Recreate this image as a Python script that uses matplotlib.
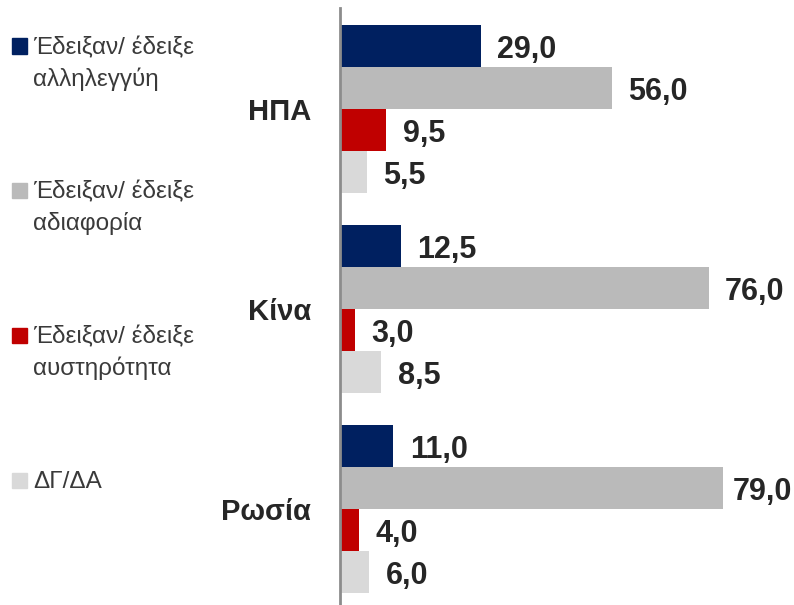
import matplotlib.pyplot as plt
from matplotlib.patches import Rectangle
import numpy as np

plt.rcParams['font.family'] = ['Liberation Sans Narrow', 'Liberation Sans', 'DejaVu Sans']

chores = ['ΗΠΑ', 'Κίνα', 'Ρωσία']
seires = ['Έδειξαν/ έδειξε\nαλληλεγγύη', 'Έδειξαν/ έδειξε\nαδιαφορία',
          'Έδειξαν/ έδειξε\nαυστηρότητα', 'ΔΓ/ΔΑ']
allilegyi = [29.0, 12.5, 11.0]
adiaforia = [56.0, 76.0, 79.0]
afstirotita = [9.5, 3.0, 4.0]
dg_da = [5.5, 8.5, 6.0]
times = [allilegyi, adiaforia, afstirotita, dg_da]
xromata = ['#002060', '#BABABA', '#C00000', '#D9D9D9']

W, H = 794, 605
fig = plt.figure(figsize=(W / 100, H / 100), dpi=100)
ax = fig.add_axes([340 / W, 0, (W - 340) / W, (H - 8) / H])

ypsos = 0.21
thesi = np.arange(len(chores))
for j, (vals, col) in enumerate(zip(times, xromata)):
    y = thesi - 1.5 * ypsos + j * ypsos
    bars = ax.barh(y, vals, height=ypsos, color=col, edgecolor='none')
    for b, v in zip(bars, vals):
        # keep the long labels inside the picture
        xt = min(v + 3.4, 81.0)
        ax.text(xt, b.get_y() + b.get_height() / 2 + 0.018,
                f'{v:.1f}'.replace('.', ','),
                ha='left', va='center', fontsize=22, fontweight='bold',
                color='#262626')

ax.set_xlim(0, (W - 340) / 4.85)
ax.set_ylim(2.48, -0.505)
ax.set_yticks(thesi)
ax.set_yticklabels(chores, fontsize=21, fontweight='bold', color='#262626')
ax.tick_params(axis='y', length=0, pad=21)
ax.set_xticks([])
for s in ['top', 'right', 'bottom']:
    ax.spines[s].set_visible(False)
ax.spines['left'].set_color('#8C8C8C')
ax.spines['left'].set_linewidth(2)

# legend, drawn by hand to match the wide spacing
kentra = [46, 190.5, 335, 480]
for lab, col, yc in zip(seires, xromata, kentra):
    fig.patches.append(Rectangle((12 / W, 1 - (yc + 7.5) / H), 15 / W, 15 / H,
                                 transform=fig.transFigure, color=col))
    fig.text(33 / W, 1 - (yc - 9) / H, lab, ha='left', va='top',
             fontsize=17.5, color='#3A3A3A', linespacing=1.45)

fig.savefig('out.png', dpi=100)
